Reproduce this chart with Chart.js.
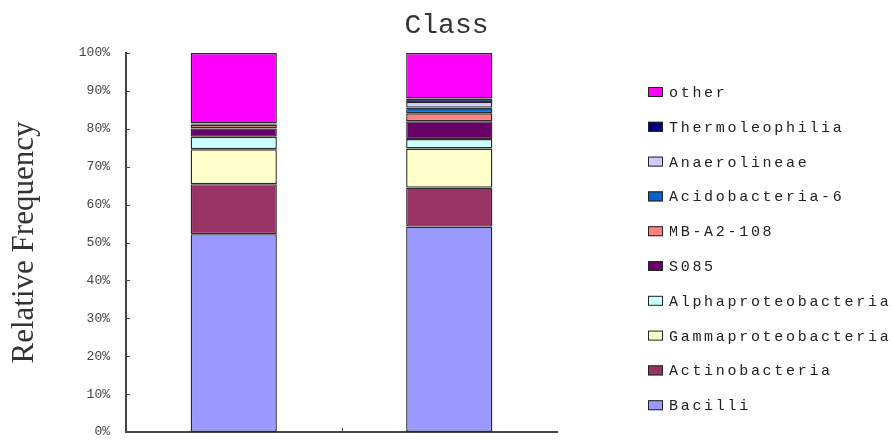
<!DOCTYPE html>
<html>
<head>
<meta charset="utf-8">
<title>Class</title>
<script src="https://cdn.jsdelivr.net/npm/chart.js@4/dist/chart.umd.min.js"></script>
<style>
  html, body { margin: 0; padding: 0; background: #fff; overflow: hidden; }
  #classChart { display: block; }
</style>
</head>
<body>
<canvas id="classChart" width="893" height="462"></canvas>
<script>
// samples on the x axis
const samples = ["1", "2"];

// relative frequency (%) per class, one value per sample
const bacilli = [52.2, 54.2];
const actinobacteria = [13.2, 10.3];
const gammaproteobacteria = [9.2, 10.3];
const alphaproteobacteria = [3.3, 2.5];
const s085 = [2.2, 4.7];
const mbA2108 = [0.9, 2.1];
const acidobacteria6 = [0.1, 1.5];
const anaerolineae = [0.2, 1.5];
const thermoleophilia = [0.1, 0.9];
const other = [18.6, 12.0];

const yTicks = [0, 10, 20, 30, 40, 50, 60, 70, 80, 90, 100];

const series = [
    { label: "Bacilli", data: bacilli, color: "#9999ff" },
    { label: "Actinobacteria", data: actinobacteria, color: "#993366" },
    { label: "Gammaproteobacteria", data: gammaproteobacteria, color: "#ffffcc" },
    { label: "Alphaproteobacteria", data: alphaproteobacteria, color: "#ccffff" },
    { label: "S085", data: s085, color: "#660066" },
    { label: "MB-A2-108", data: mbA2108, color: "#ff8080" },
    { label: "Acidobacteria-6", data: acidobacteria6, color: "#0066cc" },
    { label: "Anaerolineae", data: anaerolineae, color: "#ccccff" },
    { label: "Thermoleophilia", data: thermoleophilia, color: "#000080" },
    { label: "other", data: other, color: "#ff00ff" }
];

// small inward tick marks on both axes
const innerTicks = {
    id: "innerTicks",
    afterDatasetsDraw(chart) {
        const ctx = chart.ctx;
        const x = chart.scales.x;
        const y = chart.scales.y;
        ctx.save();
        ctx.strokeStyle = "#444";
        ctx.lineWidth = 1;
        ctx.beginPath();
        yTicks.forEach(v => {
            const py = Math.round(y.getPixelForValue(v)) + 0.5;
            ctx.moveTo(x.left, py);
            ctx.lineTo(x.left + 4, py);
        });
        for (let i = 1; i < samples.length; i++) {
            const px = Math.round((x.getPixelForValue(i - 1) + x.getPixelForValue(i)) / 2) + 0.5;
            ctx.moveTo(px, y.bottom);
            ctx.lineTo(px, y.bottom - 4);
        }
        ctx.stroke();
        ctx.restore();
    }
};

// legend column on the right, top entry is the last dataset
const sideLegend = {
    id: "sideLegend",
    afterDraw(chart) {
        const ctx = chart.ctx;
        const sets = chart.data.datasets.slice().reverse();
        ctx.save();
        ctx.font = "15px 'Liberation Mono', monospace";
        ctx.letterSpacing = "2.7px";
        ctx.textBaseline = "middle";
        sets.forEach((ds, i) => {
            const cy = 92 + i * 34.8;
            ctx.fillStyle = ds.backgroundColor;
            ctx.fillRect(648, cy - 5, 15, 10);
            ctx.strokeStyle = "#222";
            ctx.lineWidth = 1;
            ctx.strokeRect(648.5, cy - 4.5, 14, 9);
            ctx.fillStyle = "#222";
            ctx.fillText(ds.label, 669, cy + 1);
        });
        ctx.restore();
    }
};

const ctx = document.getElementById("classChart");

new Chart(ctx, {
    type: "bar",
    data: {
        labels: samples,
        datasets: series.map(s => ({
            label: s.label,
            data: s.data,
            backgroundColor: s.color,
            borderColor: "#2a2a2a",
            borderWidth: 1.4,
            borderSkipped: false,
            categoryPercentage: 1,
            barPercentage: 0.4
        }))
    },
    options: {
        responsive: false,
        animation: false,
        plugins: {
            legend: { display: false },
            tooltip: { enabled: false },
            title: {
                display: true,
                text: "Class",
                color: "#333",
                font: { family: "'Liberation Mono', monospace", size: 28, weight: "normal", lineHeight: 1.1 },
                padding: { top: 10, bottom: 12.2 }
            }
        },
        scales: {
            x: {
                stacked: true,
                grid: { display: false },
                border: { display: true, color: "#444", width: 2 },
                ticks: {
                    color: "#555",
                    padding: 12,
                    font: { family: "'Liberation Serif', serif", size: 14 }
                },
                afterFit(scale) {
                    scale.height = 462 - 432;
                }
            },
            y: {
                stacked: true,
                min: 0,
                max: 100,
                grid: { display: false },
                border: { display: true, color: "#444", width: 2 },
                afterBuildTicks(scale) {
                    scale.ticks = yTicks.map(v => ({ value: v }));
                },
                ticks: {
                    color: "#444",
                    padding: 8,
                    font: { family: "'Liberation Mono', monospace", size: 13 },
                    callback: v => v + "%"
                },
                title: {
                    display: true,
                    text: "Relative Frequency",
                    color: "#333",
                    font: { family: "'Liberation Serif', serif", size: 31, weight: "normal", lineHeight: 1.2 },
                    padding: { top: 6, bottom: 0 }
                },
                afterFit(scale) {
                    scale.width = 126;
                }
            },
            // empty axis that keeps room for the legend column
            side: {
                position: "right",
                display: true,
                grid: { display: false },
                border: { display: false },
                ticks: { display: false },
                afterFit(scale) {
                    scale.width = 893 - 557;
                }
            }
        }
    },
    plugins: [innerTicks, sideLegend]
});
</script>
</body>
</html>
